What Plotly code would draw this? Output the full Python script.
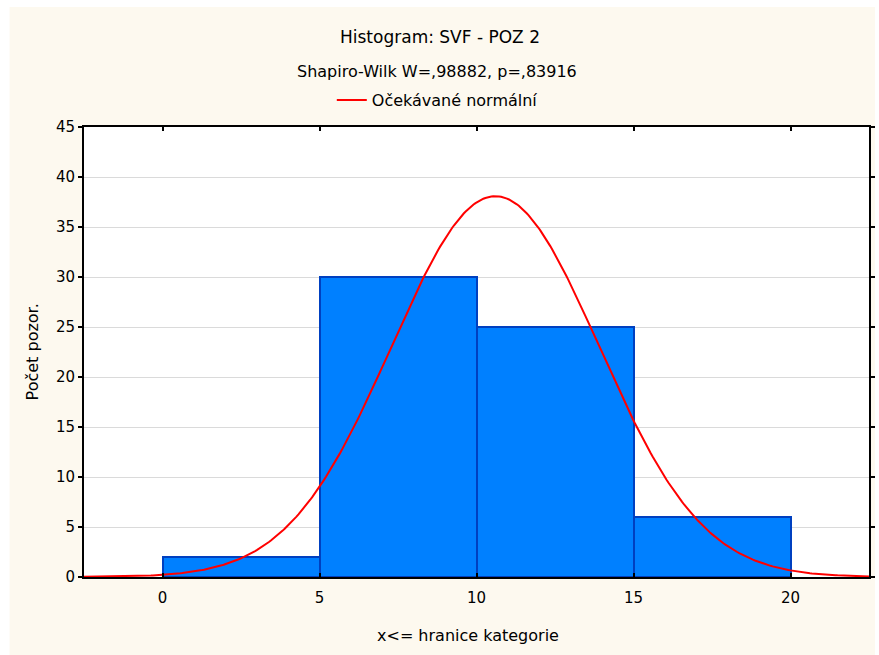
import numpy as np
import plotly.graph_objects as go

# ---- data ----
bin_upper = [5, 10, 15, 20]          # x <= upper bound of category
bin_width = 5
counts = [2, 30, 25, 6]
# expected normal curve parameters (fitted to data)
norm_mean = 10.6
norm_sd = 3.3
n_obs = sum(counts)
x_ticks = [0, 5, 10, 15, 20]
y_ticks = [0, 5, 10, 15, 20, 25, 30, 35, 40, 45]

title = "Histogram: SVF - POZ 2"
subtitle = "Shapiro-Wilk W=,98882, p=,83916"
legend_name = "Očekávané normální"
x_title = "x<= hranice kategorie"
y_title = "Počet pozor."

# ---- layout geometry ----
W, H = 879, 655
L, R, T, B = 84, 4, 127, 78
pw, ph = W - L - R, H - T - B
def px_x(p):
    return (p - L) / pw
def px_y(p):
    return (H - B - p) / ph

FONT = "DejaVu Sans, Liberation Sans, sans-serif"

centers = [u - bin_width / 2 for u in bin_upper]
xs = np.linspace(-2.5, 22.5, 400)
ys = n_obs * bin_width * np.exp(-0.5 * ((xs - norm_mean) / norm_sd) ** 2) / (norm_sd * np.sqrt(2 * np.pi))

fig = go.Figure()
fig.add_trace(go.Bar(
    x=centers, y=counts, width=[bin_width] * len(counts),
    marker=dict(color="#0080FF", line=dict(color="#0040C0", width=2)),
    showlegend=False, hoverinfo="skip",
))
fig.add_trace(go.Scatter(
    x=xs, y=ys, mode="lines", name=legend_name,
    line=dict(color="#FF0000", width=2),
))

fig.update_layout(
    width=W, height=H,
    margin=dict(l=L, r=R, t=T, b=B, pad=0),
    paper_bgcolor="white",
    plot_bgcolor="rgba(0,0,0,0)",
    font=dict(family=FONT, size=15, color="black"),
    bargap=0,
    showlegend=True,
    legend=dict(
        orientation="h", x=px_x(440), xanchor="center", y=px_y(100), yanchor="middle",
        bgcolor="rgba(0,0,0,0)", font=dict(size=16), itemwidth=30,
    ),
    shapes=[
        dict(type="rect", xref="paper", yref="paper", x0=px_x(9), x1=px_x(W + 2),
             y0=px_y(H + 2), y1=px_y(7), fillcolor="#FDF9EF", line=dict(width=0), layer="below"),
        dict(type="rect", xref="paper", yref="paper", x0=0, x1=1, y0=0, y1=1,
             fillcolor="white", line=dict(width=0), layer="below"),
    ],
    annotations=[
        dict(text=title, xref="paper", yref="paper", x=px_x(443), y=px_y(37),
             showarrow=False, xanchor="center", yanchor="middle", font=dict(size=17)),
        dict(text=subtitle, xref="paper", yref="paper", x=px_x(440), y=px_y(71),
             showarrow=False, xanchor="center", yanchor="middle", font=dict(size=16)),
        dict(text=x_title, xref="paper", yref="paper", x=px_x(471), y=px_y(635),
             showarrow=False, xanchor="center", yanchor="middle", font=dict(size=16)),
        dict(text=y_title, xref="paper", yref="paper", x=px_x(32), y=px_y(352),
             showarrow=False, xanchor="center", yanchor="middle", textangle=-90, font=dict(size=16)),
    ],
)
fig.update_xaxes(
    range=[-2.5, 22.5], tickvals=x_ticks, ticktext=[str(v) for v in x_ticks],
    showgrid=False, zeroline=False, showline=True, linecolor="black", linewidth=2,
    mirror="ticks", ticks="inside", ticklen=4, tickwidth=2, tickcolor="black",
    ticklabelstandoff=6,
)
fig.update_yaxes(
    range=[0, 45], tickvals=y_ticks, ticktext=[str(v) for v in y_ticks],
    showgrid=True, gridcolor="#DADADA", gridwidth=1,
    zeroline=False, showline=True, linecolor="black", linewidth=2,
    mirror="ticks", ticks="outside", ticklen=4, tickwidth=2, tickcolor="black",
)

fig.write_html("out.html")
